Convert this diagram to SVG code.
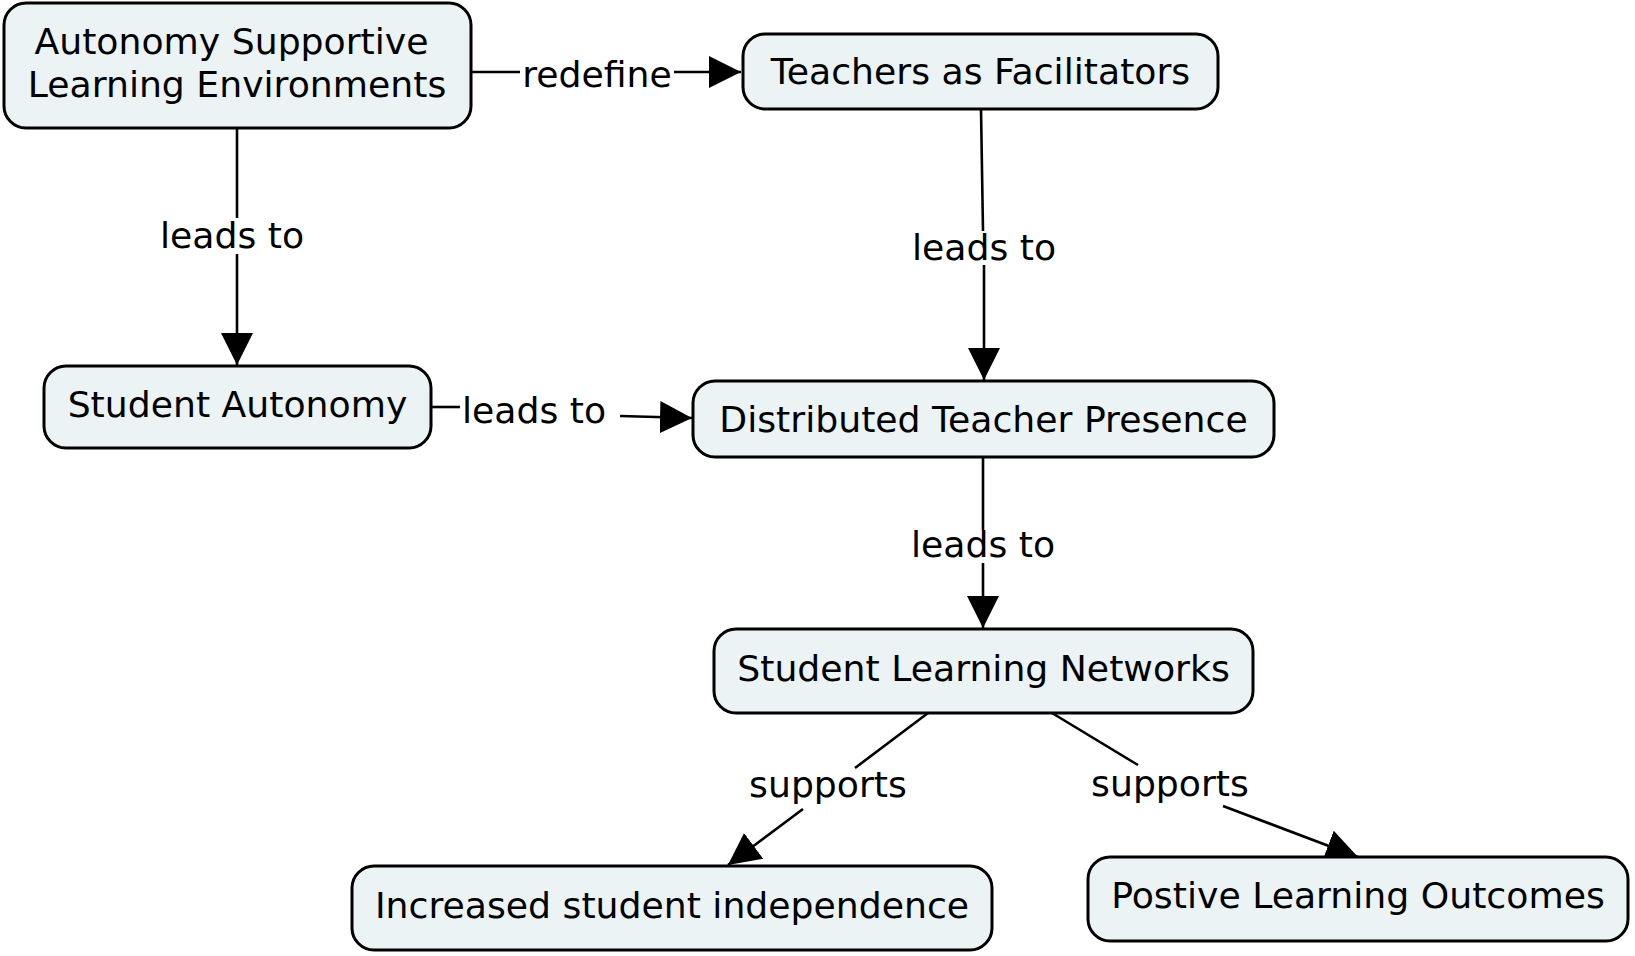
<svg xmlns="http://www.w3.org/2000/svg" width="1635" height="956" viewBox="0 0 1635 956">
<style>
  .node rect { fill: #ebf3f5; stroke: #000; stroke-width: 3; }
  .node text, .lbl { font-family: "DejaVu Sans", sans-serif; font-size: 36.2px; fill: #000; text-anchor: middle; }
  .edge { fill: none; stroke: #000; stroke-width: 2.6; }
  .arrow { marker-end: url(#arr); }
</style>
<defs>
  <marker id="arr" markerUnits="userSpaceOnUse" markerWidth="32" markerHeight="32" viewBox="0 0 31 31" refX="31" refY="15.5" orient="auto">
    <path d="M0,0 L31,15.5 L0,31 z" fill="#000"/>
  </marker>
</defs>
<rect width="1635" height="956" fill="#fff"/>
<g id="connectors">
  <g id="c-redefine">
    <path class="edge" d="M471,72 L520,72"/>
    <path class="edge arrow" d="M674,72 L741,72"/>
    <text class="lbl" x="597" y="87">redefine</text>
  </g>
  <g id="c-ase-sa">
    <path class="edge" d="M237,128 L237,218"/>
    <path class="edge arrow" d="M237,254 L237,365"/>
    <text class="lbl" x="232" y="248">leads to</text>
  </g>
  <g id="c-tf-dtp">
    <path class="edge" d="M981,109 L983,231"/>
    <path class="edge arrow" d="M984,265 L984,380"/>
    <text class="lbl" x="984" y="260">leads to</text>
  </g>
  <g id="c-sa-dtp">
    <path class="edge" d="M431,407 L460,407"/>
    <path class="edge arrow" d="M620,416 L692,418"/>
    <text class="lbl" x="534" y="423">leads to</text>
  </g>
  <g id="c-dtp-sln">
    <path class="edge" d="M983,457 L983,530"/>
    <path class="edge arrow" d="M983,563 L983,628"/>
    <text class="lbl" x="983" y="557">leads to</text>
  </g>
  <g id="c-sln-isi">
    <path class="edge" d="M928,713 L855,768"/>
    <path class="edge arrow" d="M803,809 L728,865"/>
    <text class="lbl" x="828" y="797">supports</text>
  </g>
  <g id="c-sln-plo">
    <path class="edge" d="M1052,713 L1138,765"/>
    <path class="edge arrow" d="M1223,806 L1358,857"/>
    <text class="lbl" x="1170" y="796">supports</text>
  </g>
</g>
<g id="n-ase" class="node">
  <rect x="4" y="3" width="467" height="125" rx="22" ry="22"/>
  <text x="231.5" y="54">Autonomy Supportive</text>
  <text x="237" y="97">Learning Environments</text>
</g>
<g id="n-tf" class="node">
  <rect x="743" y="34" width="475" height="75" rx="22" ry="22"/>
  <text x="980.5" y="84">Teachers as Facilitators</text>
</g>
<g id="n-sa" class="node">
  <rect x="44" y="366" width="387" height="82" rx="22" ry="22"/>
  <text x="237.5" y="417">Student Autonomy</text>
</g>
<g id="n-dtp" class="node">
  <rect x="693" y="381" width="581" height="76" rx="22" ry="22"/>
  <text x="983.5" y="432">Distributed Teacher Presence</text>
</g>
<g id="n-sln" class="node">
  <rect x="714" y="629" width="539" height="84" rx="22" ry="22"/>
  <text x="983.5" y="681">Student Learning Networks</text>
</g>
<g id="n-isi" class="node">
  <rect x="352" y="866" width="640" height="84" rx="22" ry="22"/>
  <text x="672" y="918">Increased student independence</text>
</g>
<g id="n-plo" class="node">
  <rect x="1088" y="857" width="540" height="84" rx="22" ry="22"/>
  <text x="1358" y="908">Postive Learning Outcomes</text>
</g>
</svg>
